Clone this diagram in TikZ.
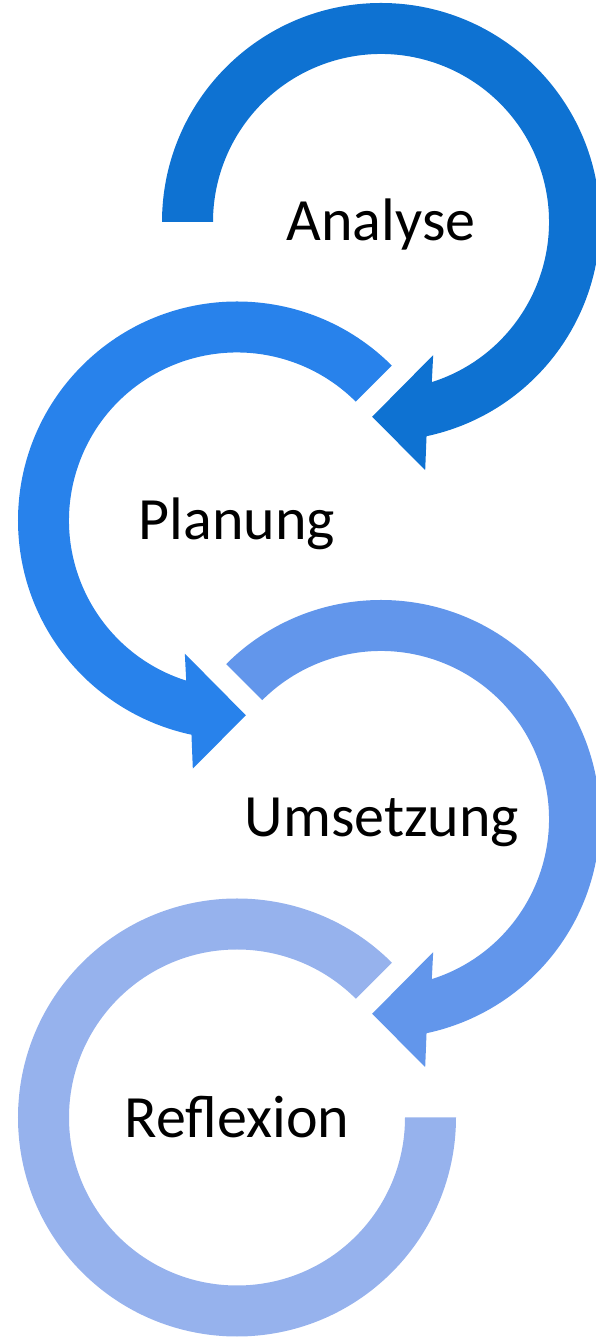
\documentclass[tikz,border=0pt]{standalone}
\usepackage{fontspec}
\setmainfont{Carlito}
\definecolor{arcA}{RGB}{14,114,210}
\definecolor{arcP}{RGB}{40,130,235}
\definecolor{arcU}{RGB}{98,150,235}
\definecolor{arcR}{RGB}{150,178,237}

\begin{document}
\begin{tikzpicture}[x=1pt,y=1pt,
    lbl/.style={font=\fontsize{60}{72}\selectfont, anchor=base, inner sep=0pt}]
			\useasboundingbox (0,0) rectangle (595,1341);
			% Analyse
			\fill[arcA,shift={(381,1119)}] (180:219) arc[start angle=180,end angle=-78,radius=219pt] -- (-79.9:252) -- (-92.6:195) -- (-68.6:143) -- (-72.4:168) arc[start angle=-72.4,end angle=180,radius=168pt] -- cycle;
			% Planung
			\fill[arcP,shift={(237,820.5)}] (45:219) arc[start angle=45,end angle=258,radius=219pt] -- (259.9:252) -- (272.6:195) -- (248.6:143) -- (252.4:168) arc[start angle=252.4,end angle=45,radius=168pt] -- cycle;
			% Umsetzung
			\fill[arcU,shift={(381,522)}] (135:219) arc[start angle=135,end angle=-78,radius=219pt] -- (-79.9:252) -- (-92.6:195) -- (-68.6:143) -- (-72.4:168) arc[start angle=-72.4,end angle=135,radius=168pt] -- cycle;
			% Reflexion
			\fill[arcR,shift={(237,223.5)}] (45:219) arc[start angle=45,end angle=360,radius=219pt] -- (0:168) arc[start angle=360,end angle=45,radius=168pt] -- cycle;
			\node[lbl] (ana) at (381,1100) {Analyse};
			\node[lbl] (pla) at (237,801) {Planung};
			\node[lbl] (ums) at (382,504) {Umsetzung};
			\node[lbl] (ref) at (237,203.5) {Reflexion};
		\end{tikzpicture}
\end{document}
